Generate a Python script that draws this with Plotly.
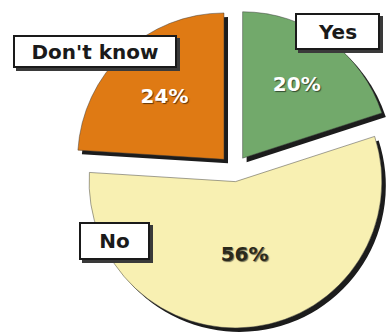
import plotly.graph_objects as go

# Survey answers (percent of respondents), ordered clockwise from 12 o'clock
labels = ["Yes", "No", "Don't know"]
values = [20, 56, 24]

# Slice styling
colors = ["#72a96b", "#f8f0b2", "#df7a14"]
text_colors = ["#ffffff", "#2b2a1c", "#ffffff"]
pull = [0.1, 0.08, 0.1]

W, H = 400, 335


def px_dom(x0, x1, y0, y1):
    """Pixel box (top-left origin) -> paper domain."""
    return dict(x=[x0 / W, x1 / W], y=[1 - y1 / H, 1 - y0 / H])


fig = go.Figure()

# Drop shadow: same pie, offset down-right
fig.add_trace(go.Pie(
    labels=labels, values=values, sort=False, direction="clockwise",
    rotation=0, pull=pull, textinfo="none", hoverinfo="skip",
    marker=dict(colors=["#1c1c1c"] * len(values), line=dict(width=0)),
    domain=px_dom(77, 399, 13, 335), showlegend=False,
))

# Main pie
fig.add_trace(go.Pie(
    labels=labels, values=values, sort=False, direction="clockwise",
    rotation=0, pull=pull, texttemplate="%{value}%", textposition="inside",
    insidetextorientation="horizontal", hoverinfo="label+percent",
    textfont=dict(family="DejaVu Sans", size=20, weight="bold", color=text_colors,
                  shadow="1px 1px 1px rgba(0,0,0,0.55)"),
    marker=dict(colors=colors, line=dict(color="rgba(60,60,60,0.6)", width=0.8)),
    domain=px_dom(73, 395, 9, 331), showlegend=False,
))

# Category label boxes: (text, left, top, right, bottom) in pixels
boxes = [
    ("Don't know", 13, 35, 177, 68),
    ("Yes", 295, 13, 380, 50),
    ("No", 79, 222, 150, 260),
]

shapes = []
annotations = []
for text, x0, y0, x1, y1 in boxes:
    shapes.append(dict(
        type="rect", xref="paper", yref="paper", layer="above",
        x0=(x0 + 3) / W, x1=(x1 + 3) / W, y0=1 - (y1 + 3) / H, y1=1 - (y0 + 3) / H,
        fillcolor="#3a3a3a", line=dict(width=0),
    ))
    annotations.append(dict(
        text=text, xref="paper", yref="paper", showarrow=False,
        x=(x0 + x1) / 2 / W, y=1 - (y0 + y1) / 2 / H, xanchor="center", yanchor="middle",
        width=(x1 - x0) - 4, height=(y1 - y0) - 4, borderpad=0, borderwidth=2,
        bordercolor="#1a1a1a", bgcolor="#ffffff",
        font=dict(family="DejaVu Sans", size=20, weight="bold", color="#1a1a1a"),
    ))

fig.update_layout(
    width=W, height=H, margin=dict(l=0, r=0, t=0, b=0),
    paper_bgcolor="#ffffff", plot_bgcolor="#ffffff",
    shapes=shapes, annotations=annotations,
)

fig.write_html(
    "out.html",
    post_script="document.documentElement.style.overflow='hidden';"
                "document.body.style.overflow='hidden';",
)
